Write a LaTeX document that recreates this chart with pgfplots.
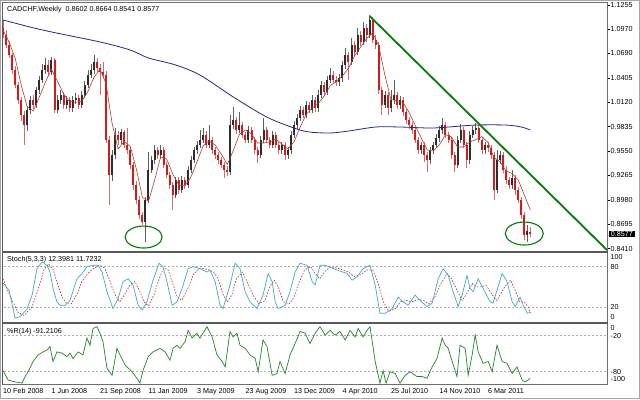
\documentclass[border=0pt]{standalone}
\usepackage{pgfplots}
\pgfplotsset{compat=1.18}
\usepackage{pgfplotstable}
\usepackage{fontspec}
\setmainfont{Liberation Sans}
\definecolor{upbody}{RGB}{45,45,45}
\definecolor{upwick}{RGB}{95,95,95}
\definecolor{dnbody}{RGB}{215,25,25}
\definecolor{dnwick}{RGB}{205,110,110}
\definecolor{mafast}{RGB}{175,60,60}
\definecolor{maslow}{RGB}{40,40,125}
\definecolor{trendg}{RGB}{10,120,10}
\definecolor{stochm}{RGB}{70,170,185}
\definecolor{stochs}{RGB}{180,40,40}
\definecolor{wprc}{RGB}{40,130,40}
\definecolor{levelc}{RGB}{170,170,170}
\definecolor{framec}{RGB}{110,110,110}

\pgfplotstableread{
i o h l c
8 0.9853 1.0070 0.9780 1.0029
9 1.0029 1.0190 0.9980 1.0145
11 1.0087 1.0300 1.0050 1.0262
12 1.0262 1.0430 1.0220 1.0379
13 1.0379 1.0560 1.0340 1.0496
14 1.0496 1.0636 1.0450 1.0554
16 1.0472 1.0650 1.0440 1.0613
18 1.0029 1.0200 0.9990 1.0145
19 1.0145 1.0260 1.0100 1.0204
21 1.0087 1.0190 1.0040 1.0145
23 1.0052 1.0190 1.0010 1.0145
24 1.0145 1.0230 1.0100 1.0169
26 1.0087 1.0250 1.0050 1.0204
27 1.0204 1.0370 1.0170 1.0321
28 1.0321 1.0490 1.0290 1.0437
29 1.0437 1.0560 1.0400 1.0496
30 1.0496 1.0671 1.0450 1.0589
36 0.9269 0.9560 0.9200 0.9503
37 0.9503 0.9818 0.9460 0.9737
39 0.9678 0.9810 0.9630 0.9772
47 0.8720 0.9010 0.8487 0.8978
48 0.8978 0.9538 0.8940 0.9328
49 0.9328 0.9490 0.9290 0.9445
50 0.9445 0.9620 0.9400 0.9562
52 0.9503 0.9620 0.9460 0.9562
57 0.9036 0.9250 0.9000 0.9211
59 0.9094 0.9260 0.9060 0.9211
61 0.9153 0.9370 0.9120 0.9328
62 0.9328 0.9490 0.9290 0.9445
63 0.9445 0.9600 0.9410 0.9562
64 0.9562 0.9670 0.9520 0.9620
65 0.9620 0.9795 0.9580 0.9678
66 0.9678 0.9818 0.9640 0.9737
68 0.9620 0.9853 0.9580 0.9678
75 0.9304 0.9970 0.9270 0.9853
76 0.9853 1.0064 0.9810 0.9912
78 0.9795 1.0005 0.9760 0.9853
81 0.9678 0.9840 0.9640 0.9795
85 0.9503 0.9720 0.9470 0.9678
86 0.9678 0.9935 0.9640 0.9795
89 0.9620 0.9780 0.9580 0.9737
92 0.9562 0.9660 0.9520 0.9620
94 0.9503 0.9600 0.9460 0.9562
95 0.9562 0.9780 0.9520 0.9737
96 0.9737 0.9900 0.9700 0.9853
97 0.9853 0.9980 0.9810 0.9935
98 0.9935 1.0070 0.9900 1.0029
100 0.9970 1.0130 0.9930 1.0087
102 1.0029 1.0204 0.9990 1.0145
104 1.0052 1.0262 1.0010 1.0204
105 1.0204 1.0370 1.0170 1.0321
107 1.0239 1.0420 1.0200 1.0379
108 1.0379 1.0519 1.0340 1.0437
111 1.0356 1.0450 1.0310 1.0402
112 1.0402 1.0600 1.0360 1.0554
113 1.0554 1.0753 1.0510 1.0671
115 1.0589 1.0870 1.0550 1.0788
117 1.0706 1.0986 1.0670 1.0905
119 1.0823 1.1056 1.0790 1.0986
121 1.0905 1.1138 1.0870 1.1080
126 1.0087 1.0250 1.0050 1.0204
128 1.0052 1.0262 1.0010 1.0145
129 1.0145 1.0379 1.0100 1.0204
131 1.0087 1.0190 1.0040 1.0145
138 0.9562 0.9660 0.9520 0.9620
141 0.9445 0.9600 0.9400 0.9562
142 0.9562 0.9660 0.9520 0.9620
143 0.9620 0.9750 0.9580 0.9702
144 0.9702 0.9840 0.9660 0.9795
145 0.9795 0.9935 0.9750 0.9853
150 0.9386 0.9720 0.9350 0.9678
151 0.9678 0.9865 0.9640 0.9795
154 0.9445 0.9780 0.9400 0.9737
155 0.9737 0.9840 0.9700 0.9795
156 0.9795 0.9877 0.9750 0.9818
159 0.9562 0.9660 0.9520 0.9620
163 0.9094 0.9562 0.9060 0.9445
164 0.9445 0.9550 0.9400 0.9503
168 0.9153 0.9328 0.9110 0.9234
173 0.8569 0.8685 0.8487 0.8610
}\upcandles

\pgfplotstableread{
i o h l c
0 1.0986 1.1080 1.0870 1.0905
1 1.0905 1.0960 1.0750 1.0788
2 1.0788 1.0830 1.0630 1.0671
3 1.0671 1.0700 1.0450 1.0496
4 1.0496 1.0540 1.0280 1.0321
5 1.0321 1.0360 1.0100 1.0145
6 1.0145 1.0180 0.9900 0.9970
7 0.9970 1.0020 0.9620 0.9853
10 1.0145 1.0200 1.0040 1.0087
15 1.0554 1.0610 1.0430 1.0472
17 1.0613 1.0640 0.9990 1.0029
20 1.0204 1.0240 1.0040 1.0087
22 1.0145 1.0180 1.0000 1.0052
25 1.0169 1.0200 1.0040 1.0087
31 1.0589 1.0640 1.0470 1.0519
32 1.0519 1.0560 1.0200 1.0472
33 1.0472 1.0589 1.0400 1.0437
34 1.0437 1.0480 0.9640 0.9678
35 0.9678 0.9720 0.8919 0.9269
38 0.9737 0.9780 0.9620 0.9678
40 0.9772 0.9800 0.9580 0.9620
41 0.9620 0.9818 0.9520 0.9562
42 0.9562 0.9600 0.9340 0.9386
43 0.9386 0.9420 0.9100 0.9153
44 0.9153 0.9200 0.8930 0.8978
45 0.8978 0.9020 0.8760 0.8802
46 0.8802 0.8840 0.8680 0.8720
51 0.9562 0.9600 0.9460 0.9503
53 0.9562 0.9600 0.9350 0.9386
54 0.9386 0.9420 0.9230 0.9269
55 0.9269 0.9310 0.9110 0.9153
56 0.9153 0.9190 0.8861 0.9036
58 0.9211 0.9250 0.9050 0.9094
60 0.9211 0.9250 0.9110 0.9153
67 0.9737 0.9780 0.9580 0.9620
69 0.9678 0.9710 0.9520 0.9562
70 0.9562 0.9600 0.9460 0.9503
71 0.9503 0.9540 0.9400 0.9445
72 0.9445 0.9480 0.9350 0.9386
73 0.9386 0.9420 0.9234 0.9328
74 0.9328 0.9370 0.9260 0.9304
77 0.9912 0.9950 0.9750 0.9795
79 0.9853 0.9890 0.9700 0.9737
80 0.9737 0.9770 0.9640 0.9678
82 0.9795 0.9830 0.9640 0.9678
83 0.9678 0.9710 0.9520 0.9562
84 0.9562 0.9600 0.9410 0.9503
87 0.9795 0.9830 0.9640 0.9678
88 0.9678 0.9710 0.9580 0.9620
90 0.9737 0.9770 0.9580 0.9620
91 0.9620 0.9650 0.9520 0.9562
93 0.9620 0.9650 0.9445 0.9503
99 1.0029 1.0060 0.9930 0.9970
101 1.0087 1.0120 0.9990 1.0029
103 1.0145 1.0180 1.0010 1.0052
106 1.0321 1.0350 1.0200 1.0239
109 1.0437 1.0480 1.0340 1.0379
110 1.0379 1.0420 1.0310 1.0356
114 1.0671 1.0710 1.0380 1.0589
116 1.0788 1.0830 1.0660 1.0706
118 1.0905 1.0950 1.0780 1.0823
120 1.0986 1.1030 1.0823 1.0905
122 1.1080 1.1110 1.0810 1.0846
123 1.0846 1.0900 1.0740 1.0788
124 1.0788 1.0820 1.0220 1.0262
125 1.0262 1.0300 0.9970 1.0087
127 1.0204 1.0240 0.9970 1.0052
130 1.0204 1.0240 1.0040 1.0087
132 1.0145 1.0180 0.9960 1.0005
133 1.0005 1.0040 0.9870 0.9912
134 0.9912 0.9950 0.9810 0.9853
135 0.9853 0.9890 0.9750 0.9795
136 0.9795 0.9830 0.9640 0.9678
137 0.9678 0.9710 0.9520 0.9562
139 0.9620 0.9650 0.9421 0.9503
140 0.9503 0.9540 0.9304 0.9445
146 0.9853 0.9890 0.9700 0.9737
147 0.9737 0.9770 0.9640 0.9678
148 0.9678 0.9710 0.9460 0.9503
149 0.9503 0.9540 0.9304 0.9386
152 0.9795 0.9830 0.9580 0.9620
153 0.9620 0.9650 0.9351 0.9445
157 0.9818 0.9860 0.9640 0.9678
158 0.9678 0.9710 0.9520 0.9562
160 0.9620 0.9650 0.9540 0.9585
161 0.9585 0.9620 0.9460 0.9503
162 0.9503 0.9540 0.8978 0.9094
165 0.9503 0.9540 0.9290 0.9328
166 0.9328 0.9370 0.9170 0.9211
167 0.9211 0.9250 0.9110 0.9153
169 0.9234 0.9270 0.9036 0.9094
170 0.9094 0.9130 0.8940 0.8978
171 0.8978 0.9010 0.8760 0.8802
172 0.8802 0.8840 0.8510 0.8569
174 0.8602 0.8664 0.8541 0.8577
}\dncandles

\pgfplotstableread{
i ma
0 1.0963
2 1.0823
4 1.0636
6 1.0321
8 1.0064
10 1.0017
12 1.0180
14 1.0356
16 1.0503
18 1.0363
20 1.0216
22 1.0127
24 1.0120
26 1.0131
28 1.0243
30 1.0409
32 1.0503
34 1.0339
36 0.9872
38 0.9573
40 0.9662
42 0.9603
44 0.9340
46 0.9008
48 0.8961
50 0.9206
52 0.9480
54 0.9456
56 0.9281
58 0.9153
60 0.9141
62 0.9246
64 0.9421
66 0.9608
68 0.9667
70 0.9620
72 0.9515
74 0.9393
76 0.9557
78 0.9744
80 0.9795
82 0.9748
84 0.9643
86 0.9643
88 0.9655
90 0.9690
92 0.9632
94 0.9573
96 0.9655
98 0.9823
100 0.9975
102 1.0052
104 1.0103
106 1.0192
108 1.0316
110 1.0358
112 1.0426
114 1.0515
116 1.0662
118 1.0762
120 1.0865
122 1.0928
124 1.0776
126 1.0437
128 1.0150
130 1.0138
132 1.0117
134 1.0001
136 0.9849
138 0.9702
140 0.9562
142 0.9550
144 0.9624
146 0.9741
148 0.9713
150 0.9596
152 0.9596
154 0.9655
156 0.9683
158 0.9718
160 0.9652
162 0.9473
164 0.9426
166 0.9316
168 0.9286
170 0.9211
172 0.9036
174 0.8861
}\mafast

\pgfplotstableread{
i ma
0 1.1080
13 1.0963
32 1.0823
42 1.0729
48 1.0636
57 1.0554
65 1.0437
76 1.0180
87 0.9947
96 0.9818
101 0.9772
108 0.9760
114 0.9783
123 0.9830
131 0.9830
141 0.9818
147 0.9830
156 0.9853
166 0.9853
171 0.9830
174 0.9795
}\maslow

\pgfplotstableread{
i v
0 56
2 45
4 4
5.6 6
7.9 17
9.6 38
11.2 77
12.9 87
14.5 82
15.5 72
16.5 48
17.8 28
18.8 23
20.5 23
22.1 30
24.4 62
26.1 70
27.7 80
29.7 82
31.4 82
32.7 72
34.3 43
36.3 18
38 33
39.6 58
41.3 62
42.9 53
44.6 23
45.9 16
47.5 28
49.5 60
51.5 85
52.8 80
54.1 58
55.8 23
57.4 28
59.1 48
61.1 77
62.7 80
65 77
67.3 72
68.3 75
70 58
71.6 23
72.6 18
74.9 53
76.6 85
78.2 77
79.9 43
81.5 28
83.8 18
85.8 38
87.5 70
88.8 58
89.8 28
90.8 18
93.1 23
94.7 43
96.4 72
98 85
100.3 82
102 58
103 53
104.6 82
106.3 82
110.2 75
113.5 70
115.2 60
116.8 65
118.8 77
121.1 82
122.8 53
124.4 11
126.1 11
128.4 18
130.4 35
132 28
133.7 23
136 38
137.6 30
139.9 21
141.6 26
143.6 62
145.2 77
146.9 67
148.5 43
150.2 21
151.5 38
153.1 67
154.1 48
155.1 43
156.8 62
158.4 48
160.7 28
161.7 26
164.7 70
166.3 58
168 28
169 21
170.6 35
171.6 23
173 11
174 12.4
}\stochmain

\pgfplotstableread{
i v
0 62
2 40
5 12
7 8
9.5 20
11.5 45
13.5 75
15 84
16.5 76
18 55
19.5 35
21 25
22.5 25
24.5 40
26 58
28 70
30 78
32 82
33.5 78
35 62
36.8 40
38.5 28
40 38
41.8 52
43.5 58
45 45
46.5 28
48 22
49.8 38
51.5 62
53 78
54.5 75
56 55
57.5 35
59 30
61 48
62.8 68
65 78
67.5 76
69.5 72
71 62
72.5 40
74 28
75.5 38
77 62
79 72
80.5 58
82.5 38
84.5 25
86.5 30
88 50
89.5 60
91 48
92.5 28
94.5 25
96 35
97.5 55
99.5 75
101.5 80
103 70
104.5 62
106 72
108 80
111 77
114 72
116 65
118 68
120 75
122 75
123.8 55
125.5 28
127.3 14
129.5 18
131.2 28
133 30
135 28
137 32
138.8 30
140.5 25
142.5 35
144.5 55
146.5 70
148 62
149.8 45
151.5 30
153 40
154.8 55
156 50
157.5 50
159.5 52
161.5 38
163 30
165.5 50
167.5 60
169 45
170.5 28
172 28
173.3 20
174 11.7
}\stochsig

\pgfplotstableread{
i v
0 -78
1.7 -94
4 -97
6.3 -99
7.3 -88
8.3 -80
9.9 -63
11.6 -52
13.2 -47
14.5 -44
15.5 -38
16.5 -63
17.8 -47
19.5 -49
21.1 -55
22.1 -49
23.1 -58
24.8 -47
26.4 -52
27.7 -24
28.7 -36
29.7 -8
31 -5
32 -16
33 -30
34.3 -74
36 -86
37.6 -41
38.6 -52
40.3 -69
42.6 -80
44.2 -91
45.2 -99
46.2 -78
47.9 -55
49.5 -47
51.8 -41
53.5 -47
55.1 -61
56.1 -41
57.4 -36
58.4 -41
60.1 -30
61.1 -11
62.4 -24
64 -16
65 -24
67.3 -5
69 -22
70.6 -52
72.3 -63
73.3 -72
74.9 -13
75.9 -22
77.2 -16
78.2 -36
79.9 -41
81.5 -52
83.2 -58
84.2 -80
85.8 -27
87.1 -38
88.8 -86
90.4 -83
91.4 -63
93.1 -83
94.7 -52
96.4 -33
98 -13
99.7 -16
101.3 -33
103 -16
104.6 -5
106.3 -19
107.9 -11
109.6 -19
111.2 -13
112.9 -27
114.5 -11
116.2 -22
117.2 -8
118.8 -22
120.1 -11
121.1 -5
122.8 -63
124.4 -99
125.4 -78
126.4 -99
127.7 -80
129.4 -83
131 -99
132.7 -86
134.3 -80
136.6 -88
138.3 -88
139.9 -91
141.6 -72
143.2 -58
144.9 -24
145.9 -36
146.9 -41
148.2 -63
149.8 -88
150.8 -36
152.5 -41
153.5 -86
154.8 -52
155.8 -19
156.8 -47
158.4 -66
160.1 -63
161.4 -80
163 -36
164.7 -63
166.3 -66
168 -83
169.6 -72
171.3 -94
172.3 -97
173.9 -91.2
}\wpr

\begin{document}
\begin{tikzpicture}[x=1bp,y=1bp,font=\fontsize{7.2}{8.5}\selectfont]
\useasboundingbox (0,0) rectangle (640,399);
\fill[white] (0,0) rectangle (640,399);

\pgfplotsset{mtaxis/.style={
  scale only axis, anchor=south west, width=604.5bp,
  xmin=-0.165, xmax=199.3,
  axis line style={framec, line width=0.9bp},
  ytick pos=right, yticklabel pos=right,
  tick align=outside, major tick length=3bp,
  tick style={black, line width=0.5bp},
  ticklabel style={font=\fontsize{7.2}{8.5}\selectfont},
  yticklabel style={anchor=west, inner xsep=0.5bp},
},
candle/.style 2 args={draw=none, mark=none, forget plot,
  error bars/.cd, y dir=both, y explicit, error mark=none,
  error bar style={line width=#1, draw=#2}}}

% ---------------- main price panel
\begin{axis}[mtaxis, at={(2.5bp,148bp)}, height=248.5bp,
  ymin=0.8382, ymax=1.1284, xtick=\empty,
  ytick={0.8410,0.8695,0.8980,0.9265,0.9550,0.9835,1.0120,1.0405,1.0690,1.0970,1.1255},
  yticklabels={0.8410,0.8695,0.8980,0.9265,0.9550,0.9835,1.0120,1.0405,1.0690,1.0970,1.1255}]
% up candles: wicks then bodies
\addplot[candle={0.7bp}{upwick}]
  table[x=i, y=c, y error plus expr=\thisrow{h}-\thisrow{c}, y error minus expr=\thisrow{c}-\thisrow{l}] {\upcandles};
\addplot[candle={2bp}{upbody}]
  table[x=i, y expr=(\thisrow{o}+\thisrow{c})/2, y error expr=abs(\thisrow{c}-\thisrow{o})/2] {\upcandles};
% down candles
\addplot[candle={0.7bp}{dnwick}]
  table[x=i, y=c, y error plus expr=\thisrow{h}-\thisrow{c}, y error minus expr=\thisrow{c}-\thisrow{l}] {\dncandles};
\addplot[candle={2bp}{dnbody}]
  table[x=i, y expr=(\thisrow{o}+\thisrow{c})/2, y error expr=abs(\thisrow{c}-\thisrow{o})/2] {\dncandles};
% moving averages
\addplot[maslow, line width=0.8bp, smooth, mark=none] table[x=i, y=ma] {\maslow};
\addplot[mafast, line width=0.6bp, mark=none] table[x=i, y=ma] {\mafast};
% trend line
\addplot[trendg, line width=1.8bp, mark=none] coordinates {(121,1.1125) (199.3,0.8393)};
% annotations
\draw[trendg, line width=1.1bp] (axis cs:46.4,0.8545) ellipse [x radius=18.5bp, y radius=11bp];
\draw[trendg, line width=1.1bp] (axis cs:172,0.8586) ellipse [x radius=19bp, y radius=11.5bp];
\coordinate (lastp) at (axis cs:199.3,0.8577);
\coordinate (mainTL) at (rel axis cs:0,1);
\end{axis}
\node[fill=black, text=white, anchor=west, inner xsep=2.2bp, inner ysep=0.6bp, xshift=1.5bp] at (lastp) {0.8577};
\node[anchor=west, inner sep=0pt] at ([xshift=4.5bp,yshift=-7bp]mainTL) {CADCHF,Weekly\ \ 0.8602 0.8664 0.8541 0.8577};

% ---------------- stochastic panel
\begin{axis}[mtaxis, at={(2.5bp,77bp)}, height=69.5bp,
  ymin=-1.8, ymax=100.9, xtick=\empty,
  ytick={5.6,20,80,94.2}, yticklabels={0,20,80,100},
  ytick style={draw=none}]
\addplot[levelc, line width=0.5bp, dash pattern=on 2bp off 2bp, mark=none] coordinates {(-1,20) (200,20)};
\addplot[levelc, line width=0.5bp, dash pattern=on 2bp off 2bp, mark=none] coordinates {(-1,80) (200,80)};
\addplot[stochs, line width=0.6bp, dash pattern=on 1.5bp off 1.5bp, mark=none] table[x=i, y=v] {\stochsig};
\addplot[stochm, line width=0.7bp, mark=none] table[x=i, y=v] {\stochmain};
\coordinate (stTL) at (rel axis cs:0,1);
\end{axis}
\node[anchor=west, inner sep=0pt] at ([xshift=4.5bp,yshift=-7.5bp]stTL) {Stoch(5,3,3) 12.3981 11.7232};

% ---------------- Williams %R panel
\begin{axis}[mtaxis, at={(2.5bp,14.5bp)}, height=61bp,
  ymin=-101.3, ymax=0.3,
  ytick={-92,-80,-20,-7}, yticklabels={-100,-80,-20,0},
  ytick style={draw=none},
  xtick pos=bottom, xtick={0,16,32,48,64,80,96,112,128,144,160},
  xticklabels={10 Feb 2008,1 Jun 2008,21 Sep 2008,11 Jan 2009,3 May 2009,23 Aug 2009,13 Dec 2009,4 Apr 2010,25 Jul 2010,14 Nov 2010,6 Mar 2011},
  xtick style={draw=none},
  xticklabel style={anchor=north west, inner xsep=0pt, inner ysep=1bp}]
\addplot[levelc, line width=0.5bp, dash pattern=on 2bp off 2bp, mark=none] coordinates {(-1,-20) (200,-20)};
\addplot[levelc, line width=0.5bp, dash pattern=on 2bp off 2bp, mark=none] coordinates {(-1,-80) (200,-80)};
\addplot[wprc, line width=0.7bp, mark=none] table[x=i, y=v] {\wpr};
\coordinate (wrTL) at (rel axis cs:0,1);
\end{axis}
\node[anchor=west, inner sep=0pt] at ([xshift=4.5bp,yshift=-8bp]wrTL) {\%R(14) -91.2106};

% panel separators
\draw[black!65, line width=2.2bp] (2,147.3) -- (607.5,147.3);
\draw[black!65, line width=2.2bp] (2,76.0) -- (607.5,76.0);
\draw[black!65, line width=1.2bp] (2.3,14.5) -- (2.3,396.5);

\draw[gray!70, line width=1bp] (0.5,0.5) rectangle (639.5,398.5);
\end{tikzpicture}
\end{document}
